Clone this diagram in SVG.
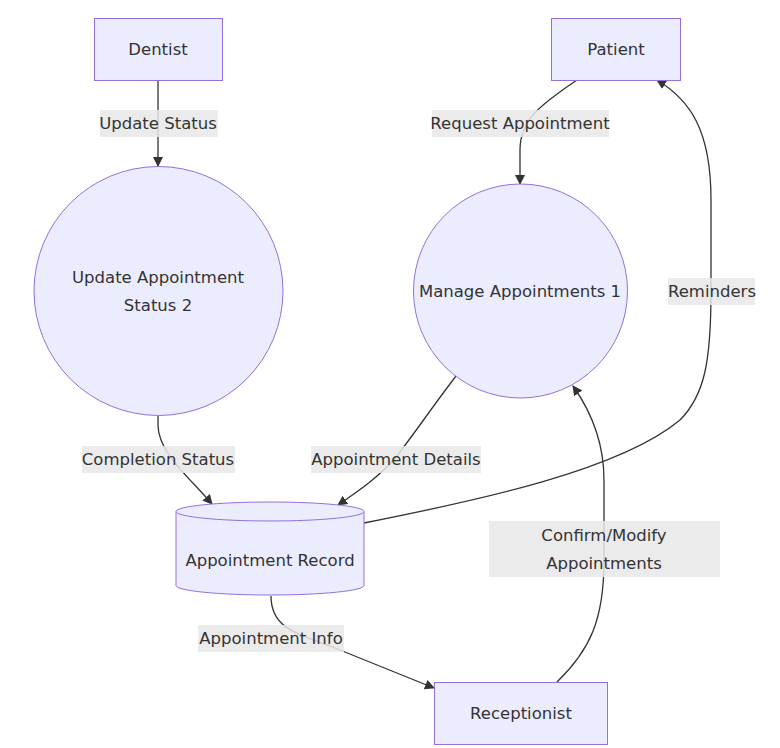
<svg xmlns="http://www.w3.org/2000/svg" width="780" height="748" viewBox="0 0 780 748">
<defs>
<style>
.node rect,.node circle,.node path,.node ellipse{fill:#ECECFF;stroke:#9370DB;stroke-width:1px}
text{font-family:"DejaVu Sans","Liberation Sans",sans-serif;font-size:16.5px;fill:#333333;text-anchor:middle;dominant-baseline:central}
.edge{fill:none;stroke:#333333;stroke-width:1.3px}
.lbl{fill:#e8e8e8;fill-opacity:0.85;stroke:none}
</style>
<marker id="arr" viewBox="0 0 10 10" refX="9" refY="5" markerWidth="10" markerHeight="10" markerUnits="userSpaceOnUse" orient="auto">
<path d="M0,0 L10,5 L0,10 z" fill="#333333"/>
</marker>
</defs>
<rect width="780" height="748" fill="#ffffff"/>
<g id="connectors">
<path class="edge" d="M158,80 L158,166" marker-end="url(#arr)"/>
<path class="edge" d="M577,80 C540,105 520,120 520,150 L520,184" marker-end="url(#arr)"/>
<path class="edge" d="M158,416 L158,425 C158,452 188,476 212,504" marker-end="url(#arr)"/>
<path class="edge" d="M456,376 C430,410 412,437 396,457 C380,476 360,490 338,505" marker-end="url(#arr)"/>
<path class="edge" d="M364,523 C480,500 620,470 680,420 C705,395 711,360 711,291 L711,200 C711,130 690,100 657,80" marker-end="url(#arr)"/>
<path class="edge" d="M271,596 C271,625 290,632 330,646 L434,688" marker-end="url(#arr)"/>
<path class="edge" d="M557,682 C590,650 604,620 604,560 L604,480 C604,440 590,410 573,386" marker-end="url(#arr)"/>
</g>
<g id="edge-labels">
<rect class="lbl" x="100" y="110" width="118" height="27"/><text x="158" y="123">Update Status</text>
<rect class="lbl" x="432" y="110" width="177" height="27"/><text x="520" y="123">Request Appointment</text>
<rect class="lbl" x="82" y="446" width="153" height="27"/><text x="158" y="459">Completion Status</text>
<rect class="lbl" x="311" y="446" width="170" height="27"/><text x="396" y="459">Appointment Details</text>
<rect class="lbl" x="668" y="278" width="87" height="27"/><text x="712" y="291">Reminders</text>
<rect class="lbl" x="198" y="625" width="146" height="27"/><text x="271" y="638">Appointment Info</text>
<rect class="lbl" x="489" y="521" width="231" height="56"/><text x="604" y="535">Confirm/Modify</text><text x="604" y="563">Appointments</text>
</g>
<g id="dentist" class="node"><rect x="94.5" y="18.5" width="128" height="62"/><text x="158" y="49">Dentist</text></g>
<g id="patient" class="node"><rect x="551.5" y="18.5" width="129" height="62"/><text x="616" y="49">Patient</text></g>
<g id="update-status" class="node"><circle cx="158.5" cy="291" r="124.5"/><text x="158" y="277">Update Appointment</text><text x="158" y="305">Status 2</text></g>
<g id="manage" class="node"><circle cx="520.5" cy="291" r="107"/><text x="520" y="291">Manage Appointments 1</text></g>
<g id="record" class="node"><path d="M176,511.5 A94,9.5 0 0 1 364,511.5 L364,585.5 A94,9.5 0 0 1 176,585.5 Z"/><path d="M176,511.5 A94,9.5 0 0 0 364,511.5" style="fill:none"/><text x="270" y="560">Appointment Record</text></g>
<g id="receptionist" class="node"><rect x="434.5" y="682.5" width="173" height="62"/><text x="521" y="713">Receptionist</text></g>
</svg>
